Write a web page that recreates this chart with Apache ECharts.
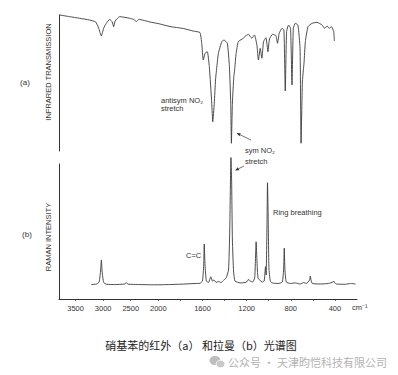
<!DOCTYPE html>
<html>
<head>
<meta charset="utf-8">
<script src="https://cdn.jsdelivr.net/npm/echarts@6/dist/echarts.min.js"></script>
<style>
html,body{margin:0;padding:0;background:#fff;}
#chart{width:398px;height:375px;}
</style>
</head>
<body>
<div id="chart"></div>
<script>
// ---- data (wavenumber in cm-1) ----
const irWavenumbers = [3790,3610,3428,3246,3136,3082,3032,2990,2942,2882,2836,2810,2782,2700,2518,2446,2396,2354,2154,1986,1895,1775,1684,1623,1607,1593,1577,1556,1538,1516,1507,1493,1482,1475,1456,1425,1405,1375,1356,1344,1338,1329,1316,1309,1295,1275,1229,1214,1184,1153,1129,1107,1093,1077,1062,1047,1025,1007,993,965,935,920,905,880,862,850,838,820,802,789,777,759,735,716,707,695,686,680,668,644,607,562,516,493,471,450,432,411,405];
const irTransmission = [100,98.8,97.6,96.3,94.9,90.4,84.6,90.4,93.9,96.8,94.9,91.4,95.6,98.8,97.6,96.7,95.2,96.8,94.9,93.4,91.5,90.1,88.2,87.1,79.2,66.9,71.8,73,62,35.1,21.5,35.1,52.2,58,71.8,80.4,81.6,79.2,62,35.1,5.7,35.3,54.7,59.6,71.8,80.4,82.9,84.4,85.8,82.9,85.3,77.9,66.9,75.5,68.2,80.4,83.3,73,82.4,85.8,84.8,79.2,86.5,90.2,89,44.1,87.7,92.6,90.2,48.5,90.2,93.9,92.6,75.5,5.7,50.7,59.6,64.7,80.4,91.4,93.9,94.6,92.6,90.2,91.9,90.2,91.4,87.7,80.9];

const ramanWavenumbers = [3214,3118,3072,3046,3032,3018,2990,2936,2790,2610,2578,2554,2336,2064,1895,1759,1668,1623,1600,1589,1584,1577,1565,1545,1525,1509,1495,1477,1456,1432,1411,1386,1364,1353,1345,1342,1336,1329,1318,1305,1259,1214,1195,1182,1168,1145,1127,1120,1114,1106,1097,1077,1059,1041,1029,1023,1015,1011,1005,998,986,968,914,877,865,859,853,841,805,759,714,684,659,629,623,617,605,532,459,416,411,405,386,305,259,214];
const ramanIntensity = [10.7,11.1,12.6,21.5,28.9,20,12.2,10.9,10.7,11.1,12.1,11,10.7,10.5,10.7,11.1,11.5,11.6,13.3,25.2,40.7,25.2,13.3,12.2,16.5,13.3,14.1,12.2,13,12.2,13.7,15.6,21.5,51.1,95.6,104.8,88.1,43.7,20,13.3,11.9,12.2,13,14.6,13.3,12.6,15.6,28.9,42.4,27.4,15.6,13.6,12.6,13.3,23.9,17.8,58.5,86.1,62.2,23,13.3,11.9,11.5,12.6,21.5,37.6,21.5,12.6,11.5,11.9,11.1,12.2,11.5,14.1,17,14.1,11.5,11.1,11.5,12.6,13.3,12.2,11.1,10.9,11.5,11.1];

const xTickLabels = [3500,3000,2500,2000,1600,1200,800,400];
const xMinorTicks = [3500,3000,2500,2000,1800,1600,1400,1200,1000,800,600,400];

// axis scale changes at 2000 cm-1 (above it, half the spread)
const toAxis = w => w > 2000 ? 2000 + (w - 2000) / 2 : w;
const fromAxis = x => x > 2000 ? 2000 + (x - 2000) * 2 : x;

const irData = irWavenumbers.map((w, i) => [toAxis(w), irTransmission[i]]);
const ramanData = ramanWavenumbers.map((w, i) => [toAxis(w), ramanIntensity[i]]);

const FONT = "'Liberation Sans', Arial, sans-serif";
const INK = '#333';
const LINE = '#3a3a3a';

const chart = echarts.init(document.getElementById('chart'), null, {renderer: 'svg'});

const yCommon = {
  type: 'value', min: 0, max: 100,
  axisLine: {show: true, lineStyle: {color: INK, width: 1}},
  axisTick: {show: false}, axisLabel: {show: false}, splitLine: {show: false}
};

function txt(text, x, y, opts) {
  return Object.assign({
    type: 'text', x: x, y: y,
    style: Object.assign({text: text, fill: INK, font: '7.5px ' + FONT, textAlign: 'left', textVerticalAlign: 'middle'}, (opts && opts.style) || {})
  }, (opts && opts.el) || {});
}

function arrow(x1, y1, x2, y2) {
  const ang = Math.atan2(y2 - y1, x2 - x1);
  const L = 4, s = 1.6;
  const bx = x2 - L * Math.cos(ang), by = y2 - L * Math.sin(ang);
  const px = -Math.sin(ang) * s, py = Math.cos(ang) * s;
  return [
    {type: 'line', shape: {x1: x1, y1: y1, x2: bx, y2: by}, style: {stroke: INK, lineWidth: 0.7}},
    {type: 'polygon', shape: {points: [[x2, y2], [bx + px, by + py], [bx - px, by - py]]}, style: {fill: INK}}
  ];
}

chart.setOption({
  animation: false,
  backgroundColor: '#fff',
  grid: [
    {left: 59, width: 298, top: 15, height: 136},
    {left: 59, width: 298, top: 164, height: 135}
  ],
  xAxis: [
    {gridIndex: 0, type: 'value', min: 200, max: 2900, inverse: true, show: false},
    {
      gridIndex: 1, type: 'value', min: 200, max: 2900, inverse: true,
      axisLine: {show: true, lineStyle: {color: INK, width: 1}},
      axisTick: {show: true, customValues: xMinorTicks.map(toAxis), length: 2, lineStyle: {color: INK, width: 0.8}},
      axisLabel: {
        customValues: xTickLabels.map(toAxis),
        formatter: v => String(Math.round(fromAxis(v))),
        fontSize: 7.5, fontFamily: FONT, color: INK, margin: 5
      },
      splitLine: {show: false}
    }
  ],
  yAxis: [
    Object.assign({gridIndex: 0}, yCommon),
    Object.assign({gridIndex: 1}, yCommon)
  ],
  series: [
    {type: 'line', xAxisIndex: 0, yAxisIndex: 0, data: irData, showSymbol: false, smooth: 0.15, clip: false,
     lineStyle: {color: LINE, width: 0.9}, silent: true},
    {type: 'line', xAxisIndex: 1, yAxisIndex: 1, data: ramanData, showSymbol: false, smooth: 0.15, clip: false,
     lineStyle: {color: LINE, width: 0.9}, silent: true}
  ],
  graphic: [
    txt('INFRARED TRANSMISSION', 48, 72, {el: {rotation: Math.PI / 2}, style: {textAlign: 'center'}}),
    txt('RAMAN INTENSITY', 48, 237, {el: {rotation: Math.PI / 2}, style: {textAlign: 'center'}}),
    txt('(a)', 25, 82, {style: {textAlign: 'center', font: '8px ' + FONT}}),
    txt('(b)', 27, 234, {style: {textAlign: 'center', font: '8px ' + FONT}}),
    txt('antisym NO₂', 161, 100),
    txt('stretch', 161, 108.5),
    txt('sym NO₂', 245, 150),
    txt('stretch', 245, 161.5),
    ...arrow(251, 140, 236.5, 133),
    ...arrow(244, 166, 235, 170.5),
    txt('C=C', 186, 255),
    txt('Ring breathing', 273, 212),
    txt('cm⁻¹', 352, 307, {style: {font: '7.5px ' + FONT}}),
    txt('硝基苯的红外（a） 和拉曼（b）光谱图', 201, 345, {style: {textAlign: 'center', font: '11px "Noto Sans CJK SC", sans-serif', fill: '#222'}}),
    {type: 'ellipse', shape: {cx: 215, cy: 360.5, rx: 5.5, ry: 4.6}, style: {fill: '#bdbdbd'}},
    {type: 'ellipse', shape: {cx: 220.5, cy: 364, rx: 4.4, ry: 3.8}, style: {fill: '#c8c8c8', stroke: '#fff', lineWidth: 0.8}},
    txt('公众号 · 天津昀恺科技有限公司', 228, 362, {style: {font: '11px "Noto Sans CJK SC", sans-serif', fill: '#b3b3b3'}})
  ]
});
</script>
</body>
</html>
